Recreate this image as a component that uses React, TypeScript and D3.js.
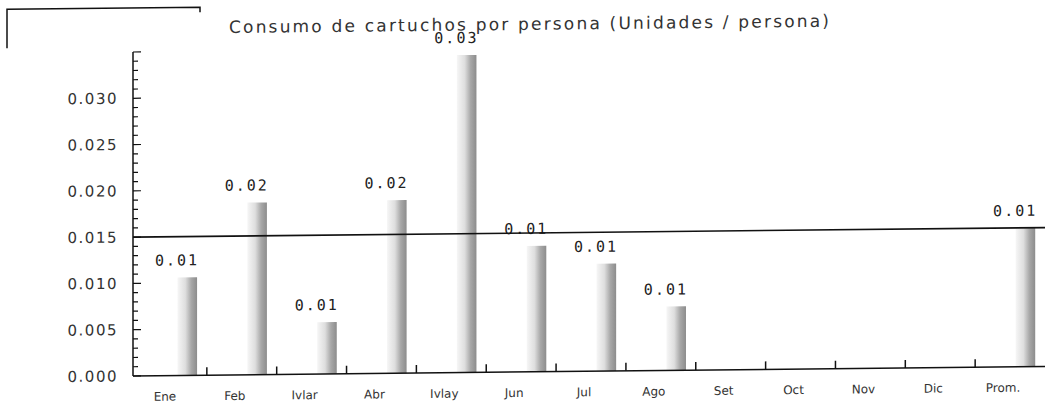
import React from "react";
import * as d3 from "d3";

const categories = ["Ene", "Feb", "Mar", "Abr", "May", "Jun", "Jul", "Ago", "Set", "Oct", "Nov", "Dic", "Prom."];
const categoryLabels = ["Ene", "Feb", "Ivlar", "Abr", "Ivlay", "Jun", "Jul", "Ago", "Set", "Oct", "Nov", "Dic", "Prom."];
const values: (number | null)[] = [0.0106, 0.0186, 0.0056, 0.0187, 0.0343, 0.0136, 0.0116, 0.0069, null, null, null, null, 0.015];
const valueLabels = ["0.01", "0.02", "0.01", "0.02", "0.03", "0.01", "0.01", "0.01", "", "", "", "", "0.01"];
const promedio = 0.015;
const yTickLabels = [0, 0.005, 0.01, 0.015, 0.02, 0.025, 0.03];
const title = "Consumo de cartuchos por persona (Unidades / persona)";

const W = 1045;
const H = 408;
const X0 = 133;
const X1 = 1045;
const Y0 = 376;
const YTOP = 52;

export default function App() {
  const x = d3.scaleBand<string>().domain(categories).range([137, 1045]).paddingInner(0).paddingOuter(0);
  const y = d3.scaleLinear().domain([0, 0.035]).range([Y0, YTOP]);
  const step = x.step();
  const minor = d3.range(0, 36).map((i) => i * 0.001);
  const fmt = d3.format(".3f");

  return (
    <svg width={W} height={H} style={{ position: "absolute", left: 0, top: 0, background: "#fff" }}
      fontFamily="DejaVu Sans">
      <defs>
        <linearGradient id="barGrad" x1="0" x2="1" y1="0" y2="0">
          <stop offset="0%" stopColor="#f6f6f6" />
          <stop offset="40%" stopColor="#dedede" />
          <stop offset="70%" stopColor="#a8a8a8" />
          <stop offset="100%" stopColor="#8c8c8c" />
        </linearGradient>
      </defs>
      <rect width={W} height={H} fill="#fff" />
      <g transform={`translate(${X0},0) skewY(-0.6) translate(${-X0},0)`}>
        <path d="M7,47 V8 H200 V13" fill="none" stroke="#111" strokeWidth={1.5} />
        <text x={229} y={34} fontSize={17} fill="#333" textLength={600} lengthAdjust="spacing">{title}</text>

        {/* bars */}
        {categories.map((c, i) => {
          const v = values[i];
          if (v == null) return null;
          const bx = (x(c) as number) + step * 0.58;
          const bw = step * 0.28;
          return (
            <g key={c}>
              <rect x={bx} y={y(v)} width={bw} height={Y0 - y(v)} fill="url(#barGrad)" />
              <text x={bx + bw + 2} y={y(v) - 12} textAnchor="end" fontFamily="DejaVu Sans Mono"
                fontSize={15} letterSpacing={2} fill="#222">{valueLabels[i]}</text>
            </g>
          );
        })}

        {/* average line */}
        <line x1={X0} x2={X1} y1={y(promedio)} y2={y(promedio)} stroke="#111" strokeWidth={1.6} />

        {/* y axis */}
        <line x1={X0} x2={X0} y1={YTOP} y2={Y0} stroke="#111" strokeWidth={1.5} />
        {minor.map((t, i) => (
          <line key={i} x1={X0} x2={X0 + (i % 5 === 0 ? 8 : 5)} y1={y(t)} y2={y(t)} stroke="#111" strokeWidth={1.2} />
        ))}
        {yTickLabels.map((t) => (
          <text key={t} x={118} y={y(t)} dy="0.35em" textAnchor="end" fontSize={15} letterSpacing={1.5} fill="#333">
            {fmt(t)}
          </text>
        ))}

        {/* x axis */}
        <line x1={X0} x2={X1} y1={Y0} y2={Y0} stroke="#111" strokeWidth={1.5} />
        {categories.slice(1).map((c) => (
          <line key={c} x1={x(c)} x2={x(c)} y1={Y0} y2={Y0 - 8} stroke="#111" strokeWidth={1.5} />
        ))}
        {categories.map((c, i) => (
          <text key={c} x={(x(c) as number) + step * 0.4} y={Y0 + 25} textAnchor="middle" fontSize={12} fill="#333">
            {categoryLabels[i]}
          </text>
        ))}
      </g>
    </svg>
  );
}
